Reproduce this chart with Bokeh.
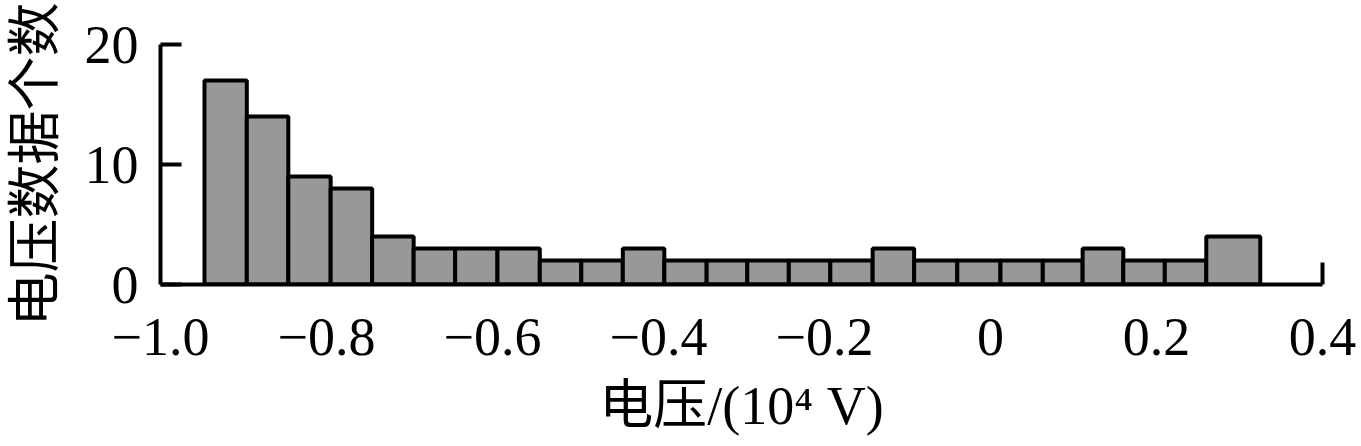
from bokeh.plotting import figure
from bokeh.models import FixedTicker, Range1d
from bokeh.embed import file_html
from bokeh.resources import INLINE

# histogram bin edges (10^4 V) and counts
bin_edges = [-0.947, -0.896, -0.846, -0.795, -0.745, -0.695, -0.645, -0.594,
             -0.543, -0.493, -0.443, -0.393, -0.342, -0.293, -0.243, -0.193,
             -0.142, -0.092, -0.040, 0.012, 0.063, 0.111, 0.160, 0.210,
             0.260, 0.325]
counts = [17, 14, 9, 8, 4, 3, 3, 3, 2, 2, 3, 2, 2, 2, 2, 2, 3, 2, 2, 2, 2,
          3, 2, 2, 4]

x_ticks = [-1.0, -0.8, -0.6, -0.4, -0.2, 0.0, 0.2, 0.4]
x_tick_labels = ["\u22121.0", "\u22120.8", "\u22120.6", "\u22120.4",
                 "\u22120.2", "0", "0.2", "0.4"]
y_ticks = [0, 10, 20]

x_label = "电压/(10\u2074 V)"
y_label = "电压数据个数"

SERIF = "Liberation Serif, Noto Sans CJK SC"

p = figure(width=1361, height=446, output_backend="svg", toolbar_location=None,
           x_range=Range1d(-1.0, 0.4), y_range=Range1d(0, 20),
           min_border_left=160, min_border_right=39, min_border_top=44,
           min_border_bottom=162)
p.outline_line_color = None
p.grid.visible = False
p.background_fill_color = "white"
p.border_fill_color = "white"

p.quad(left=bin_edges[:-1], right=bin_edges[1:], top=counts, bottom=0,
       fill_color="#989898", line_color="black", line_width=4)

xa = p.xaxis[0]
xa.ticker = FixedTicker(ticks=x_ticks, minor_ticks=[0.4])
xa.major_label_overrides = dict(zip(x_ticks, x_tick_labels))
xa.major_tick_line_color = None
xa.major_tick_in = 0
xa.major_tick_out = 0
xa.minor_tick_in = 22
xa.minor_tick_out = 0
xa.minor_tick_line_width = 4
xa.minor_tick_line_color = "black"
xa.axis_line_width = 4
xa.axis_line_color = "black"
xa.major_label_standoff = 34
xa.major_label_text_font = "Liberation Serif"
xa.major_label_text_font_size = "54px"
xa.major_label_text_color = "black"
xa.axis_label = x_label
xa.axis_label_text_font = SERIF
xa.axis_label_text_font_size = "54px"
xa.axis_label_text_font_style = "normal"
xa.axis_label_text_color = "black"
xa.axis_label_standoff = 18

ya = p.yaxis[0]
ya.ticker = FixedTicker(ticks=y_ticks, minor_ticks=[])
ya.major_tick_in = 21
ya.major_tick_out = 0
ya.major_tick_line_width = 4
ya.major_tick_line_color = "black"
ya.minor_tick_line_color = None
ya.axis_line_width = 4
ya.axis_line_color = "black"
ya.major_label_standoff = 22
ya.major_label_text_font = "Liberation Serif"
ya.major_label_text_font_size = "54px"
ya.major_label_text_color = "black"
ya.axis_label = y_label
ya.axis_label_text_font = SERIF
ya.axis_label_text_font_size = "54px"
ya.axis_label_text_font_style = "normal"
ya.axis_label_text_color = "black"
ya.axis_label_standoff = 16

open("out.html", "w").write(file_html(p, INLINE))
